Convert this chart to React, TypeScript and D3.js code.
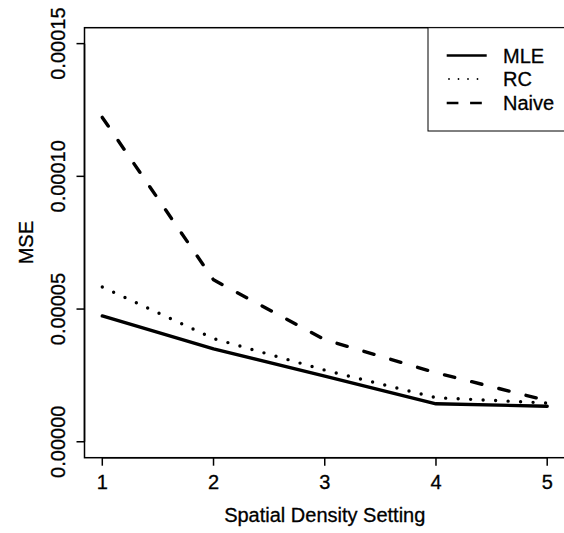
import React from "react";
import * as d3 from "d3";

const settings = [1, 2, 3, 4, 5];
const mle = [4.74e-5, 3.5e-5, 2.47e-5, 1.43e-5, 1.34e-5];
const rc = [5.83e-5, 3.89e-5, 2.7e-5, 1.66e-5, 1.46e-5];
const naive = [1.222e-4, 6.1e-5, 3.85e-5, 2.6e-5, 1.55e-5];
const yTicks = [0, 0.00005, 0.0001, 0.00015];
const yTickLabels = ["0.00000", "0.00005", "0.00010", "0.00015"];
const seriesNames = ["MLE", "RC", "Naive"];

const W = 564;
const H = 533;
const FONT = "'Liberation Sans', Arial, Helvetica, sans-serif";
const FS = 20;

export default function App() {
  const x = d3.scaleLinear().domain([0.84, 5.16]).range([84.5, 565]);
  const y = d3.scaleLinear().domain([-0.000006, 0.000156]).range([457.7, 27.7]);
  const line = (vals: number[]) =>
    d3.line<number>()
      .x((_, i) => x(settings[i]))
      .y((d) => y(d))(vals) as string;

  const series = [
    { name: seriesNames[0], vals: mle, dash: undefined as string | undefined },
    { name: seriesNames[1], vals: rc, dash: "0 12.5" },
    { name: seriesNames[2], vals: naive, dash: "10.5 17.5" },
  ];

  const plotL = x(0.84), plotR = x(5.16), plotT = y(0.000156), plotB = y(-0.000006);
  const legL = 428, legT = plotT, legB = 131;
  const legRows = [55.5, 79, 103];
  const txt = { fill: "#000", stroke: "#000", strokeWidth: 0.3 };

  return (
    <svg
      width={W}
      height={H}
      style={{ position: "absolute", left: 0, top: 0, background: "#fff" }}
      fontFamily={FONT}
    >
      <rect x={0} y={0} width={W} height={H} fill="#fff" />
      <rect x={plotL} y={plotT} width={plotR - plotL} height={plotB - plotT} fill="none" stroke="#000" strokeWidth={1.5} />
      {series.map((s) => (
        <path
          key={s.name}
          d={line(s.vals)}
          fill="none"
          stroke="#000"
          strokeWidth={3.4}
          strokeDasharray={s.dash}
          strokeLinecap="round"
          strokeLinejoin="round"
        />
      ))}
      <line x1={x(1)} x2={x(5)} y1={plotB} y2={plotB} stroke="#000" strokeWidth={1.5} />
      {settings.map((t) => (
        <g key={t}>
          <line x1={x(t)} x2={x(t)} y1={plotB} y2={plotB + 8} stroke="#000" strokeWidth={1.5} />
          <text x={x(t)} y={489} fontSize={FS} textAnchor="middle" {...txt}>
            {t}
          </text>
        </g>
      ))}
      <text x={(plotL + plotR) / 2} y={522} fontSize={FS} textAnchor="middle" {...txt}>
        Spatial Density Setting
      </text>
      <line x1={plotL} x2={plotL} y1={y(0)} y2={y(0.00015)} stroke="#000" strokeWidth={1.5} />
      {yTicks.map((t, i) => (
        <g key={t}>
          <line x1={plotL - 8} x2={plotL} y1={y(t)} y2={y(t)} stroke="#000" strokeWidth={1.5} />
          <text
            transform={`translate(${64.5},${y(t)}) rotate(-90)`}
            fontSize={FS}
            textAnchor="middle"
            {...txt}
          >
            {yTickLabels[i]}
          </text>
        </g>
      ))}
      <text
        transform={`translate(${32.5},${(plotT + plotB) / 2}) rotate(-90)`}
        fontSize={FS}
        textAnchor="middle"
        {...txt}
      >
        MSE
      </text>
      <rect x={legL} y={legT} width={plotR - legL} height={legB - legT} fill="#fff" stroke="#000" strokeWidth={1} />
      <line x1={446.7} x2={486.7} y1={legRows[0]} y2={legRows[0]} stroke="#000" strokeWidth={2.5} />
      <line x1={449} x2={486.7} y1={legRows[1]} y2={legRows[1]} stroke="#000" strokeWidth={1.8} strokeDasharray="0 9.5" strokeLinecap="round" />
      <line x1={446.7} x2={486.7} y1={legRows[2]} y2={legRows[2]} stroke="#000" strokeWidth={2.5} strokeDasharray="11.7 11.7" />
      {seriesNames.map((n, i) => (
        <text key={n} x={503} y={legRows[i] + 7} fontSize={FS} {...txt}>
          {n}
        </text>
      ))}
    </svg>
  );
}
